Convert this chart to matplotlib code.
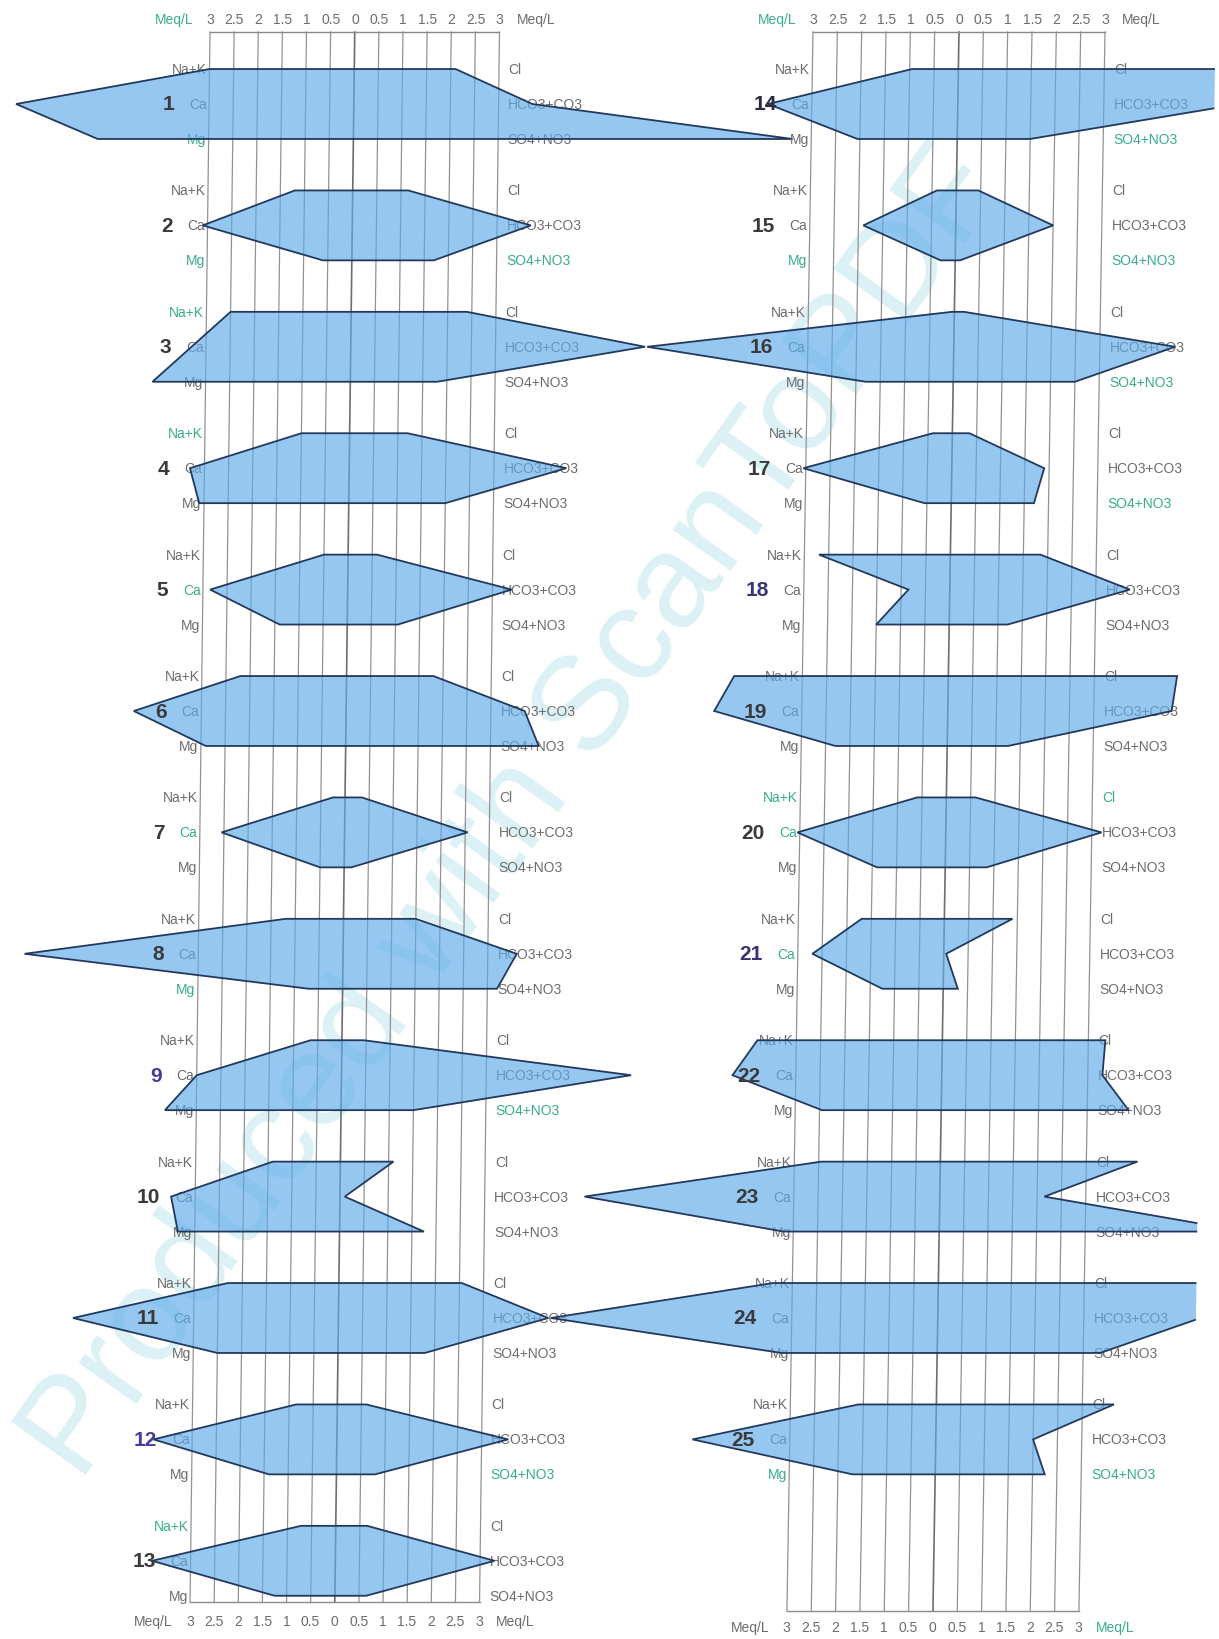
import numpy as np
import matplotlib
matplotlib.use('Agg')
import matplotlib.pyplot as plt
from matplotlib.colors import to_rgba
from matplotlib.patches import Polygon
from matplotlib.transforms import Affine2D, IdentityTransform

plt.rcParams['font.family'] = ['Liberation Sans', 'DejaVu Sans']

# Stiff diagram concentrations in meq/L, samples 1-25
sample_ids = list(range(1, 26))
na_k = [3.0, 1.2, 2.5, 1.0, 0.5, 2.2, 0.25, 1.2, 0.65, 1.4, 2.3, 0.85, 0.72,
        0.95, 0.4, 0.05, 0.4, 2.7, 4.4, 0.6, 1.7, 3.8, 2.45, 3.4, 1.6]
ca = [7.0, 3.1, 3.3, 3.3, 2.85, 4.4, 2.55, 6.6, 3.0, 3.5, 5.5, 3.8, 3.8,
      3.9, 1.9, 6.3, 3.05, 0.85, 4.8, 3.05, 2.7, 4.3, 7.3, 7.95, 5.0]
mg = [5.3, 0.6, 4.1, 3.1, 1.4, 2.9, 0.5, 0.7, 3.65, 3.35, 2.5, 1.4, 1.25,
      2.05, 0.3, 1.8, 0.55, 1.5, 2.3, 1.4, 1.25, 2.45, 3.2, 3.2, 1.7]
cl = [2.1, 1.15, 2.4, 1.2, 0.6, 1.8, 0.35, 1.5, 0.45, 1.1, 2.55, 0.6, 0.65,
      6.0, 0.45, 0.2, 0.35, 1.85, 4.7, 0.6, 1.4, 3.35, 4.05, 6.0, 3.65]
hco3 = [3.7, 3.7, 6.1, 4.5, 3.4, 3.7, 2.55, 3.6, 6.0, 0.1, 4.35, 3.55, 3.3,
        5.8, 2.0, 4.55, 1.9, 3.7, 4.6, 3.2, 0.05, 3.3, 2.15, 5.4, 2.0]
so4 = [9.1, 1.7, 1.8, 2.0, 1.05, 4.0, 0.15, 3.2, 1.5, 1.75, 1.8, 0.8, 0.65,
       1.5, 0.1, 2.5, 1.7, 1.2, 1.25, 0.85, 0.3, 3.85, 6.3, 3.35, 2.25]

left_ids = sample_ids[:13]
right_ids = sample_ids[13:]

cation_names = ['Na+K', 'Ca', 'Mg']
anion_names = ['Cl', 'HCO3+CO3', 'SO4+NO3']
scale_ticks = [-3, -2.5, -2, -1.5, -1, -0.5, 0, 0.5, 1, 1.5, 2, 2.5, 3]
scale_labels = ['3', '2.5', '2', '1.5', '1', '0.5', '0', '0.5', '1', '1.5', '2', '2.5', '3']

# labels that came out green-ish on the printed sheet
teal_labels = {(1, 'Mg'), (2, 'Mg'), (2, 'SO4+NO3'), (3, 'Na+K'), (4, 'Na+K'), (5, 'Ca'),
               (7, 'Ca'), (8, 'Mg'), (9, 'SO4+NO3'), (12, 'SO4+NO3'), (13, 'Na+K'),
               (14, 'SO4+NO3'), (15, 'Mg'), (15, 'SO4+NO3'), (16, 'SO4+NO3'), (17, 'SO4+NO3'),
               (20, 'Na+K'), (20, 'Ca'), (20, 'Cl'), (21, 'Ca'), (25, 'Mg'), (25, 'SO4+NO3')}
number_colors = {9: '#4a3a9a', 12: '#4a3a9a', 18: '#3a3470', 21: '#3a3470', 14: '#2a2a40'}

W, H = 1219, 1640
ROW = 121.4     # px between sample centres
TOP = 105       # px from the top edge to the first centre
HALF = 0.288    # offset of the top/bottom ion rows, in sample units

GRAY = '#6c6c6c'
TEAL = '#37ad8c'
FILL = to_rgba('#5fabeb', 0.66)
EDGE = '#22395c'


def y_of(px):
  return (px - TOP) / ROW


def column_axes(fig, x_lo, x_hi, tilt):
  unit = (x_hi - x_lo) / 6
  ax = fig.add_axes([0, 0, 1, 1], zorder=2)
  ax.set_xlim(-3 - x_lo / unit, 3 + (W - x_hi) / unit)
  ax.set_ylim(y_of(H), y_of(0))
  ax.axis('off')
  ax.patch.set_alpha(0)
  shear = Affine2D().translate(0, -H / 2).skew(np.arctan(tilt), 0).translate(0, H / 2)
  return ax, ax.transData + shear


def draw_column(ax, tr, ids, bottom_px, label_px, teal_meq, page_edge):
  y_top = y_of(33)
  y_bot = y_of(bottom_px)
  for t in scale_ticks:
    ax.plot([t, t], [y_top, y_bot], color='#6e6e6e' if t == 0 else '#929292',
            lw=1.2 if t == 0 else 0.9, transform=tr, zorder=1)
  for yy in (y_top, y_bot):
    ax.plot([-3, 3], [yy, yy], color='#8a8a8a', lw=1.0, transform=tr, zorder=1)

  for yy, side in ((y_of(20), 'top'), (y_of(label_px), 'bottom')):
    for t, s in zip(scale_ticks, scale_labels):
      ax.text(t, yy, s, ha='center', va='center', fontsize=10, color=GRAY, transform=tr)
    ax.text(-3.35, yy, 'Meq/L', ha='right', va='center', fontsize=10,
            color=TEAL if (side, 'left') in teal_meq else GRAY, transform=tr)
    ax.text(3.35, yy, 'Meq/L', ha='left', va='center', fontsize=10,
            color=TEAL if (side, 'right') in teal_meq else GRAY, transform=tr)

  for j, i in enumerate(ids):
    k = i - 1
    rows = [j - HALF, j, j + HALF]
    for name, yy in zip(cation_names, rows):
      ax.text(-3.05, yy, name, ha='right', va='center', fontsize=10,
              color=TEAL if (i, name) in teal_labels else GRAY, transform=tr, zorder=2)
    for name, yy in zip(anion_names, rows):
      ax.text(3.2, yy, name, ha='left', va='center', fontsize=10,
              color=TEAL if (i, name) in teal_labels else GRAY, transform=tr, zorder=2)

    pts = [(-na_k[k], rows[0]), (-ca[k], rows[1]), (-mg[k], rows[2]),
           (so4[k], rows[2]), (hco3[k], rows[1]), (cl[k], rows[0])]
    poly = Polygon(pts, closed=True, facecolor=FILL, edgecolor=EDGE, lw=1.3,
                   joinstyle='miter', transform=tr, zorder=3)
    ax.add_patch(poly)
    poly.set_clip_path(page_edge)

    ax.text(-3.72, j, str(i), ha='right', va='center', fontsize=15, fontweight='bold',
            color=number_colors.get(i, '#3a3a3a'), transform=tr, zorder=5)


fig = plt.figure(figsize=(W / 100, H / 100), dpi=100)
fig.patch.set_facecolor('white')

fig.text(515 / W, 1 - 815 / H, 'Produced with ScanToPDF', fontsize=96, color='#dcf1f5',
         rotation=54.5, ha='center', va='center', rotation_mode='anchor', zorder=-1)

# the right margin of the sheet runs slightly slanted
page_edge = Polygon([(0, 0), (1191, 0), (1216, H), (0, H)], closed=True,
                    transform=IdentityTransform(), visible=False)

ax_l, tr_l = column_axes(fig, 200, 489.5, 0.0127)
draw_column(ax_l, tr_l, left_ids, 1603, 1622, {('top', 'left')}, page_edge)

ax_r, tr_r = column_axes(fig, 800, 1092, 0.0165)
draw_column(ax_r, tr_r, right_ids, 1612, 1628, {('top', 'left'), ('bottom', 'right')}, page_edge)

fig.savefig('out.png', dpi=100)
